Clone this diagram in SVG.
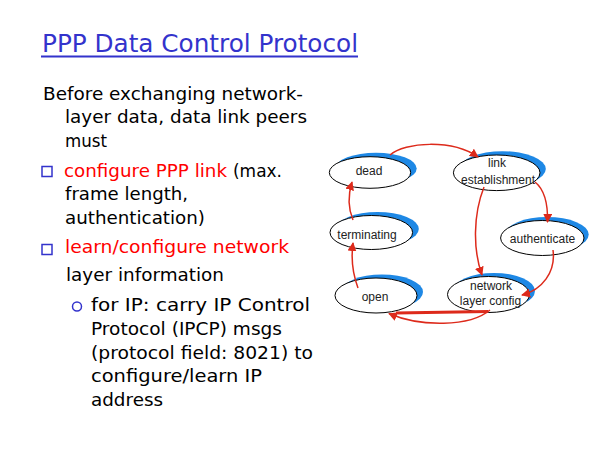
<svg xmlns="http://www.w3.org/2000/svg" width="600" height="450" viewBox="0 0 600 450">
<style>
.title{font-family:"DejaVu Sans","Liberation Sans",sans-serif;font-size:24px;fill:#3333cc}
.body{font-family:"DejaVu Sans","Liberation Sans",sans-serif;font-size:18px;fill:#000}
.red{fill:#ff0000}
.bul{fill:none;stroke:#3333cc;stroke-width:1.5}
.shadow{fill:#1e88e5}
.node{fill:#fff;stroke:#000;stroke-width:1}
.lbl{font-family:"Liberation Sans",Arial,sans-serif;font-size:12px;fill:#222;text-anchor:middle}
.arr{fill:none;stroke:#dd2a1b;stroke-width:1.5;marker-end:url(#ah)}
</style>
<defs>
<marker id="ah" viewBox="0 0 10 10" refX="9" refY="5" markerWidth="9" markerHeight="9" markerUnits="userSpaceOnUse" orient="auto">
<path d="M0,0 L10,5 L0,10 z" fill="#dd2a1b"/>
</marker>
</defs>
<rect width="600" height="450" fill="#fff"/>

<g id="text">
<text class="title" x="42" y="52" textLength="316" lengthAdjust="spacingAndGlyphs">PPP Data Control Protocol</text>
<line x1="41" y1="56.5" x2="358" y2="56.5" stroke="#3333cc" stroke-width="2"/>
<text class="body" x="43" y="100" textLength="260" lengthAdjust="spacingAndGlyphs">Before exchanging network-</text>
<text class="body" x="65" y="123" textLength="242" lengthAdjust="spacingAndGlyphs">layer data, data link peers</text>
<text class="body" x="65" y="147" textLength="42" lengthAdjust="spacingAndGlyphs">must</text>
<rect class="bul" x="42" y="166.5" width="10" height="10"/>
<text class="body red" x="64" y="177" textLength="163" lengthAdjust="spacingAndGlyphs">configure PPP link</text>
<text class="body" x="233" y="177" textLength="49" lengthAdjust="spacingAndGlyphs">(max.</text>
<text class="body" x="65" y="200" textLength="123" lengthAdjust="spacingAndGlyphs">frame length,</text>
<text class="body" x="65" y="224" textLength="140" lengthAdjust="spacingAndGlyphs">authentication)</text>
<rect class="bul" x="42" y="244.5" width="10" height="10"/>
<text class="body red" x="65" y="253" textLength="224" lengthAdjust="spacingAndGlyphs">learn/configure network</text>
<text class="body" x="66" y="281" textLength="158" lengthAdjust="spacingAndGlyphs">layer information</text>
<circle class="bul" cx="77" cy="306.5" r="4.5"/>
<text class="body" x="91" y="311" textLength="219" lengthAdjust="spacingAndGlyphs">for IP: carry IP Control</text>
<text class="body" x="91" y="335" textLength="191" lengthAdjust="spacingAndGlyphs">Protocol (IPCP) msgs</text>
<text class="body" x="91" y="359" textLength="222" lengthAdjust="spacingAndGlyphs">(protocol field: 8021) to</text>
<text class="body" x="91" y="382" textLength="171" lengthAdjust="spacingAndGlyphs">configure/learn IP</text>
<text class="body" x="91" y="406" textLength="72" lengthAdjust="spacingAndGlyphs">address</text>
</g>

<g id="node-dead">
<ellipse class="shadow" cx="376" cy="168.5" rx="40.7" ry="15.8"/>
<ellipse class="node" cx="370" cy="172.5" rx="40.7" ry="15.8"/>
<text class="lbl" x="369" y="175">dead</text>
</g>
<g id="node-link">
<ellipse class="shadow" cx="502.5" cy="169" rx="43.3" ry="17.8"/>
<ellipse class="node" cx="496.7" cy="172.8" rx="43.3" ry="17.8"/>
<text class="lbl" x="497" y="167">link</text>
<text class="lbl" x="498" y="183.5">establishment</text>
</g>
<g id="node-terminating">
<ellipse class="shadow" cx="377.5" cy="229" rx="41.3" ry="17"/>
<ellipse class="node" cx="371.3" cy="232.5" rx="41.3" ry="17"/>
<text class="lbl" x="367" y="239">terminating</text>
</g>
<g id="node-authenticate">
<ellipse class="shadow" cx="547" cy="234.5" rx="41.7" ry="17.5"/>
<ellipse class="node" cx="542.3" cy="238" rx="41.7" ry="17.5"/>
<text class="lbl" x="542.5" y="242.5">authenticate</text>
</g>
<g id="node-open">
<ellipse class="shadow" cx="382" cy="292" rx="41" ry="17.5"/>
<ellipse class="node" cx="376" cy="295.5" rx="41" ry="17.5"/>
<text class="lbl" x="375" y="301">open</text>
</g>
<g id="node-network">
<ellipse class="shadow" cx="494" cy="291" rx="41" ry="18"/>
<ellipse class="node" cx="488.5" cy="294.5" rx="41" ry="18"/>
<text class="lbl" x="491" y="290">network</text>
<text class="lbl" x="490.5" y="304.5">layer config</text>
</g>

<g id="connectors">
<path class="arr" d="M390,155 C405,142 452,139 478,157"/>
<path class="arr" d="M535,182 C545,190 548,205 547.5,222"/>
<path class="arr" d="M484,187 C473,215 473,250 482,275"/>
<path class="arr" d="M553,250 C556,272 542,290 522,295"/>
<path d="M488,311.5 L396,313" fill="none" stroke="#dd2a1b" stroke-width="3"/>
<path class="arr" d="M490,310 C470,327 420,327 389,313.5"/>
<path class="arr" d="M358,288 C352,272 351,258 353,243"/>
<path class="arr" d="M353,220 C348,208 348,195 352,182"/>
</g>
</svg>
